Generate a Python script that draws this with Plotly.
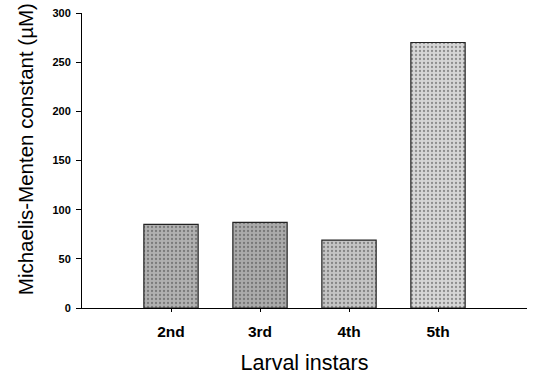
import plotly.graph_objects as go

categories = ["2nd", "3rd", "4th", "5th"]
positions = [1, 2, 3, 4]
km_values = [85, 87, 69, 270]
y_ticks = [0, 50, 100, 150, 200, 250, 300]

bar_bg = ["#b0b0b0", "#aaaaaa", "#c4c4c4", "#d6d6d6"]

fig = go.Figure()
fig.add_trace(go.Bar(
    x=positions, y=km_values, width=0.61,
    marker=dict(
        color=bar_bg,
        line=dict(color="#222222", width=1.2),
        pattern=dict(shape=".", fgcolor="#6a6a6a", bgcolor=bar_bg, size=4, solidity=0.25),
    ),
    showlegend=False,
))

fig.update_layout(
    width=535, height=375,
    margin=dict(l=82, r=8, t=13, b=67),
    paper_bgcolor="white", plot_bgcolor="white",
    font=dict(family="Liberation Sans, Arial, sans-serif", color="black"),
    annotations=[dict(
        text="Michaelis-Menten constant (µM)", textangle=-90,
        xref="paper", yref="paper", x=-0.127, y=0.54,
        xanchor="center", yanchor="middle", showarrow=False,
        font=dict(size=20.5, color="black"),
    )],
)
fig.update_xaxes(
    range=[0, 5], tickvals=positions, ticktext=[f"<b>{c}</b>" for c in categories],
    showline=True, linecolor="black", linewidth=1, ticks="outside", ticklen=3,
    tickcolor="black", showgrid=False, zeroline=False, tickfont=dict(size=15.5),
    ticklabelstandoff=6, automargin=False,
    title=dict(text="Larval instars", font=dict(size=21.5), standoff=18),
)
fig.update_yaxes(
    range=[0, 300], tickvals=y_ticks, ticktext=[f"<b>{t}</b>" for t in y_ticks],
    showline=True, linecolor="black", linewidth=1, ticks="outside", ticklen=5,
    tickcolor="black", showgrid=False, zeroline=False, tickfont=dict(size=11),
    ticklabelstandoff=3, automargin=False,
)

fig.write_html("out.html", config={"displayModeBar": False},
               post_script="document.body.style.margin='0';")
